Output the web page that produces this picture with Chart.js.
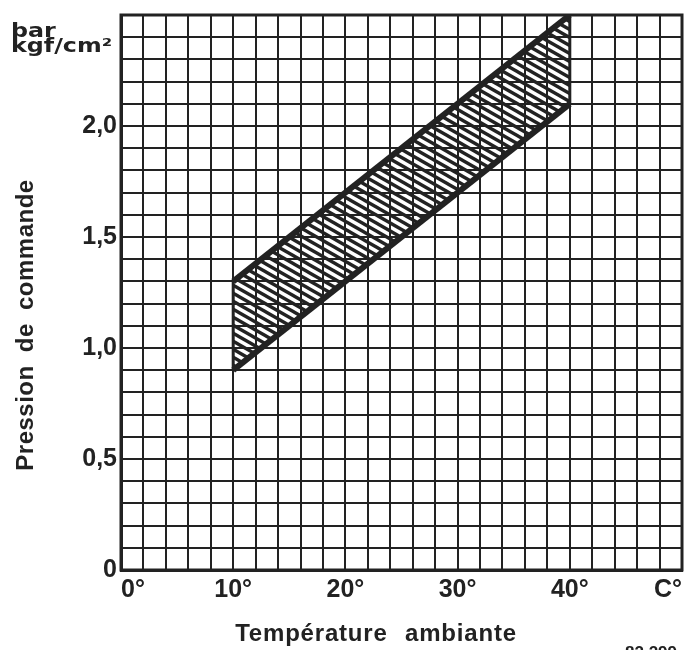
<!DOCTYPE html>
<html>
<head>
<meta charset="utf-8">
<script src="https://cdn.jsdelivr.net/npm/chart.js@4.4.0/dist/chart.umd.min.js"></script>
<style>
    html, body { margin: 0; padding: 0; background: #fff; }
    #wrap { width: 689px; height: 650px; }
</style>
</head>
<body>
<div id="wrap"><canvas id="myChart" width="689" height="650"></canvas></div>
<script>
// band limits (temperature in °C, pressure in bar)
const bandTemps = [10, 40];
const lowerPressure = [0.9, 2.1];
const upperPressure = [1.3, 2.5];
// labelled ticks
const tempTicks = [0, 10, 20, 30, 40];
const tempUnitTick = 50;
const pressureTicks = [0, 0.5, 1.0, 1.5, 2.0];

const ink = '#222';
const font = '"Liberation Sans", Arial, sans-serif';

function hatchPattern() {
    const c = document.createElement('canvas');
    c.width = 14; c.height = 8;
    const g = c.getContext('2d');
    g.strokeStyle = ink;
    g.lineWidth = 3.4;
    for (let k = -1; k <= 1; k++) {
        g.beginPath();
        g.moveTo(-14, -8 + k * 8);
        g.lineTo(28, 16 + k * 8);
        g.stroke();
    }
    return g.createPattern(c, 'repeat');
}

// closed outline of the band
const bandShape = [
    { x: bandTemps[0], y: lowerPressure[0] },
    { x: bandTemps[1], y: lowerPressure[1] },
    { x: bandTemps[1], y: upperPressure[1] },
    { x: bandTemps[0], y: upperPressure[0] },
    { x: bandTemps[0], y: lowerPressure[0] }
];

const textPlugin = {
    id: 'texts',
    afterDraw(chart) {
        const ctx = chart.ctx, a = chart.chartArea;
        ctx.save();
        ctx.strokeStyle = ink;
        ctx.lineWidth = 3;
        ctx.strokeRect(a.left, a.top, a.right - a.left, a.bottom - a.top);

        ctx.fillStyle = ink;
        ctx.textAlign = 'left';
        ctx.textBaseline = 'alphabetic';

        // unit label, wide lettering
        ctx.save();
        ctx.translate(11, 0);
        ctx.scale(1.25, 1);
        ctx.font = 'bold 19px "DejaVu Sans", sans-serif';
        ctx.fillText('bar', 0, 37);
        ctx.fillText('kgf/cm²', 0, 52);
        ctx.restore();

        ctx.font = 'bold 24px ' + font;
        ctx.letterSpacing = '0.8px';
        ctx.wordSpacing = '10px';
        ctx.textAlign = 'center';
        ctx.fillText('Température ambiante', 376, 641);

        ctx.letterSpacing = '0.5px';
        ctx.wordSpacing = '6px';
        ctx.save();
        ctx.translate(33, 325);
        ctx.rotate(-Math.PI / 2);
        ctx.fillText('Pression de commande', 0, 0);
        ctx.restore();

        ctx.wordSpacing = '0px';
        ctx.letterSpacing = '0px';
        ctx.font = 'bold 17px ' + font;
        ctx.textAlign = 'left';
        ctx.textBaseline = 'top';
        ctx.fillText('82.299', 625, 645);
        ctx.restore();
    }
};

const ctx = document.getElementById('myChart').getContext('2d');
const myChart = new Chart(ctx, {
    type: 'scatter',
    data: {
        datasets: [{
            data: bandShape,
            showLine: true,
            fill: 'shape',
            backgroundColor: hatchPattern(),
            borderColor: ink,
            borderWidth: 3,
            pointRadius: 0,
            tension: 0
        }, {
            data: bandTemps.map((t, i) => ({ x: t, y: upperPressure[i] })),
            showLine: true,
            borderColor: ink,
            borderWidth: 6,
            pointRadius: 0
        }, {
            data: bandTemps.map((t, i) => ({ x: t, y: lowerPressure[i] })),
            showLine: true,
            borderColor: ink,
            borderWidth: 6,
            pointRadius: 0
        }]
    },
    options: {
        responsive: false,
        animation: false,
        layout: { padding: { top: 15, right: 7, left: 0, bottom: 0 } },
        plugins: {
            legend: { display: false },
            tooltip: { enabled: false }
        },
        scales: {
            x: {
                type: 'linear',
                min: 0,
                max: 50,
                grid: { color: ink, lineWidth: 2, drawTicks: false },
                border: { color: ink, width: 3 },
                ticks: {
                    stepSize: 2,
                    autoSkip: false,
                    maxRotation: 0,
                    align: 'inner',
                    padding: 5,
                    color: ink,
                    font: { family: font, size: 25, weight: 'bold' },
                    callback: function (v) {
                        if (tempTicks.includes(v)) return v + '°';
                        if (v === tempUnitTick) return 'C°';
                        return '';
                    }
                },
                afterFit: function (s) {
                    s.height = 80;
                    s.paddingLeft = 0;
                    s.paddingRight = 0;
                }
            },
            y: {
                type: 'linear',
                min: 0,
                max: 2.5,
                grid: { color: ink, lineWidth: 2, drawTicks: false },
                border: { color: ink, width: 3 },
                ticks: {
                    stepSize: 0.1,
                    autoSkip: false,
                    padding: 4,
                    color: ink,
                    font: { family: font, size: 25, weight: 'bold' },
                    callback: function (v) {
                        if (!pressureTicks.some(p => Math.abs(p - v) < 1e-6)) return '';
                        return v === 0 ? '0' : v.toFixed(1).replace('.', ',');
                    }
                },
                afterFit: function (s) {
                    s.width = 121;
                    s.paddingTop = 0;
                    s.paddingBottom = 0;
                }
            }
        }
    },
    plugins: [textPlugin]
});
</script>
</body>
</html>
